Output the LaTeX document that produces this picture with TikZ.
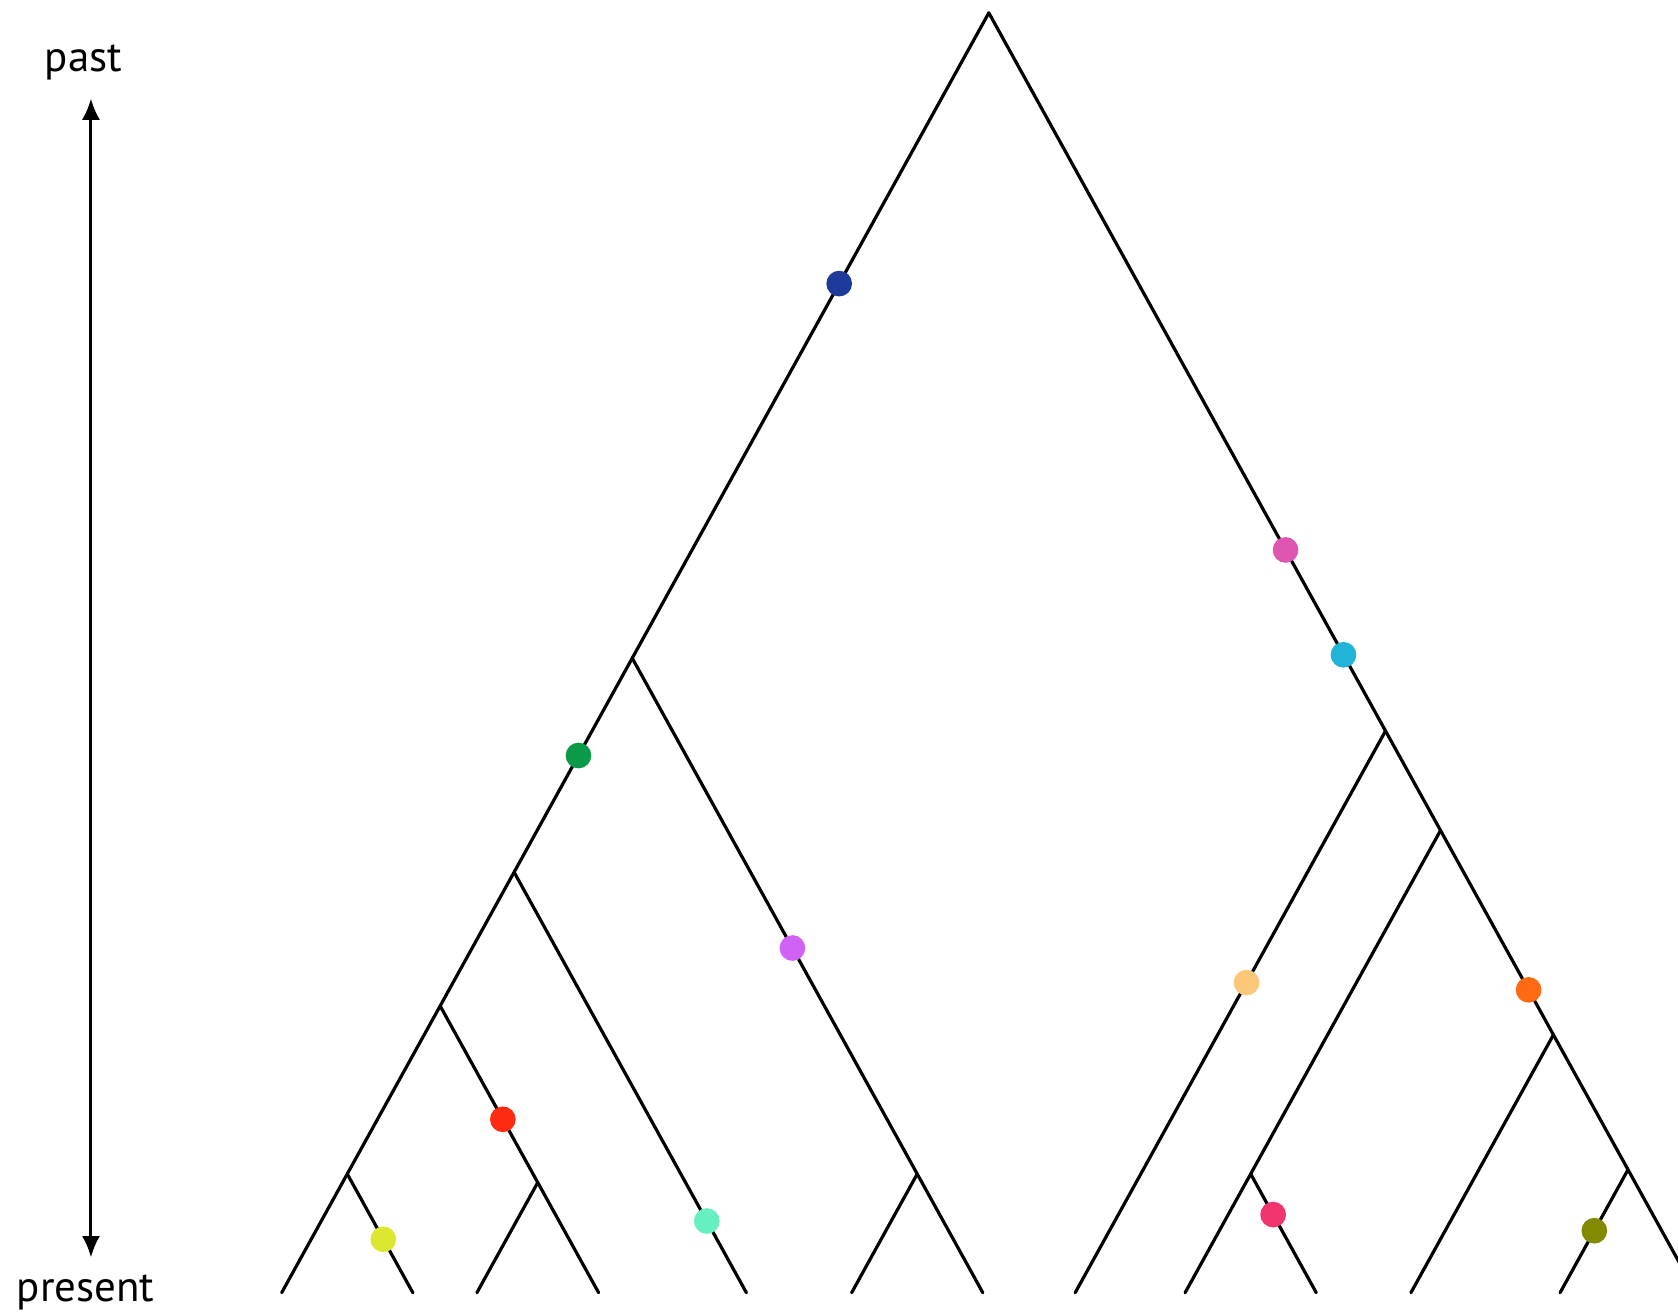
\documentclass[tikz,border=0pt]{standalone}
\usepackage{fontspec}
\setmainfont{PT Sans}
\usetikzlibrary{arrows.meta}
\definecolor{cblue}{HTML}{1E3A9B}
\definecolor{cpink}{HTML}{DE55B2}
\definecolor{ccyan}{HTML}{22B4D6}
\definecolor{cgreen}{HTML}{0A9A48}
\definecolor{cviolet}{HTML}{D062F6}
\definecolor{clorange}{HTML}{FBC87A}
\definecolor{corange}{HTML}{FF6A12}
\definecolor{cred}{HTML}{FF2A12}
\definecolor{caqua}{HTML}{66F0C2}
\definecolor{cyellow}{HTML}{DDE630}
\definecolor{crose}{HTML}{F2346E}
\definecolor{colive}{HTML}{828A00}
\begin{document}
\begin{tikzpicture}[x=0.01cm,y=-0.01cm,
  branch/.style={line width=0.85pt, black, line cap=round},
  mut/.style={circle, inner sep=0pt, minimum size=0.24cm, draw=none},
  lab/.style={font=\fontsize{11.4pt}{13pt}\selectfont, inner sep=0pt}]
\useasboundingbox (0,0) rectangle (1568,1228);
\begin{scope}
\clip (0,0) rectangle (1568,1228);
% internal nodes
\coordinate (R)  at (924,12);
\coordinate (A)  at (590.8,615);
\coordinate (B)  at (480.4,815);
\coordinate (C)  at (411.3,940);
\coordinate (D)  at (324.5,1097);
\coordinate (C2) at (502.5,1105);
\coordinate (A2) at (857.1,1097);
\coordinate (E)  at (1294.7,683);
\coordinate (F)  at (1346.1,776);
\coordinate (G)  at (1451.6,967);
\coordinate (H)  at (1521.3,1093);
\coordinate (F2) at (1168.7,1097);
% leaves
\coordinate (l1)  at (263.2,1208);
\coordinate (l2)  at (385.8,1208);
\coordinate (l3)  at (445.6,1208);
\coordinate (l4)  at (559.4,1208);
\coordinate (l5)  at (697.5,1208);
\coordinate (l6)  at (795.8,1208);
\coordinate (l7)  at (918.4,1208);
\coordinate (l8)  at (1004.7,1208);
\coordinate (l9)  at (1107.4,1208);
\coordinate (l10) at (1230.0,1208);
\coordinate (l11) at (1318.4,1208);
\coordinate (l12) at (1457.8,1208);
\coordinate (l13) at (1584.8,1208);
% branches
\draw[branch] (R) -- (A) -- (B) -- (C) -- (D) -- (l1);
\draw[branch] (D) -- (l2);
\draw[branch] (C) -- (C2) -- (l4);
\draw[branch] (C2) -- (l3);
\draw[branch] (B) -- (l5);
\draw[branch] (A) -- (A2) -- (l7);
\draw[branch] (A2) -- (l6);
\draw[branch] (R) -- (E) -- (F) -- (G) -- (H) -- (l13);
\draw[branch] (E) -- (l8);
\draw[branch] (F) -- (F2) -- (l9);
\draw[branch] (F2) -- (l10);
\draw[branch] (G) -- (l11);
\draw[branch] (H) -- (l12);
% mutations
\path (R) -- (A) node[mut, fill=cblue, pos=0.4196] (m1) {};
\path (A) -- (B) node[mut, fill=cgreen, pos=0.455] (m2) {};
\path (A) -- (A2) node[mut, fill=cviolet, pos=0.562] (m3) {};
\path (C) -- (C2) node[mut, fill=cred, pos=0.642] (m4) {};
\path (B) -- (l5) node[mut, fill=caqua, pos=0.8295] (m5) {};
\path (D) -- (l2) node[mut, fill=cyellow, pos=0.55] (m6) {};
\path (R) -- (E) node[mut, fill=cpink, pos=0.748] (m7) {};
\path (R) -- (E) node[mut, fill=ccyan, pos=0.894] (m8) {};
\path (E) -- (l8) node[mut, fill=clorange, pos=0.448] (m9) {};
\path (F) -- (G) node[mut, fill=corange, pos=0.780] (m10) {};
\path (F2) -- (l10) node[mut, fill=crose, pos=0.342] (m11) {};
\path (H) -- (l12) node[mut, fill=colive, pos=0.496] (m12) {};
\end{scope}
% time axis
\node[lab, anchor=base] (past) at (78,67) {past};
\node[lab, anchor=base] (present) at (80,1216) {present};
\coordinate (atop) at (85,92);
\coordinate (abot) at (85,1175);
\draw[line width=0.8pt, {Latex[length=0.2cm,width=0.17cm]}-{Latex[length=0.2cm,width=0.17cm]}] (atop) -- (abot);
\end{tikzpicture}
\end{document}
